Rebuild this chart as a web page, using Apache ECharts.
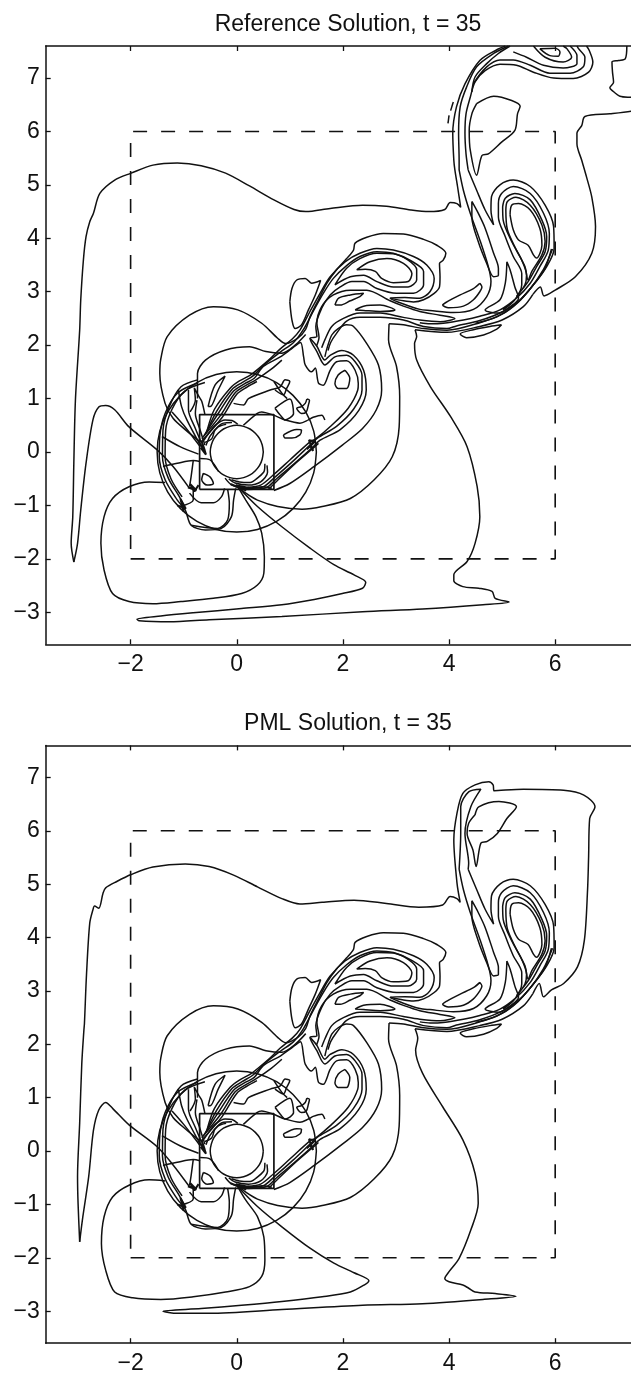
<!DOCTYPE html>
<html><head><meta charset="utf-8">
<style>html,body{margin:0;padding:0;background:#fff}#c{width:631px;height:1377px}</style>
<script src="https://cdn.jsdelivr.net/npm/echarts@6/dist/echarts.min.js"></script>
</head><body><div id="c"></div>
<script>
const titles = ['Reference Solution, t = 35', 'PML Solution, t = 35'];
const xTicks = [-2, 0, 2, 4, 6];
const yTicks = [-3, -2, -1, 0, 1, 2, 3, 4, 5, 6, 7];

const dashedBox = [[-2,-2],[6,-2],[6,6],[-2,6],[-2,-2]];
const innerBox = [[-0.7,-0.7],[0.7,-0.7],[0.7,0.7],[-0.7,0.7],[-0.7,-0.7]];
const bigCircle = [[1.5,0],[1.45,.39],[1.3,.75],[1.06,1.06],[.75,1.3],[.39,1.45],[0,1.5],[-.39,1.45],[-.75,1.3],[-1.06,1.06],[-1.3,.75],[-1.45,.39],[-1.5,0],[-1.45,-.39],[-1.3,-.75],[-1.06,-1.06],[-.75,-1.3],[-.39,-1.45],[0,-1.5],[.39,-1.45],[.75,-1.3],[1.06,-1.06],[1.3,-.75],[1.45,-.39],[1.5,0]];
const cylinder = [[.5,0],[.48,.13],[.43,.25],[.35,.35],[.25,.43],[.13,.48],[0,.5],[-.13,.48],[-.25,.43],[-.35,.35],[-.43,.25],[-.48,.13],[-.5,0],[-.48,-.13],[-.43,-.25],[-.35,-.35],[-.25,-.43],[-.13,-.48],[0,-.5],[.13,-.48],[.25,-.43],[.35,-.35],[.43,-.25],[.48,-.13],[.5,0]];

// Reference panel only
const refMain = [[-3.07,-2.06],[-3.12,-1.71],[-3.09,-1.21],[-3.07,-.21],[-3.04,.97],[-2.96,2.28],[-2.94,2.84],[-2.89,3.59],[-2.84,4.03],[-2.77,4.31],[-2.70,4.47],[-2.58,4.84],[-2.30,5.09],[-1.99,5.22],[-1.58,5.37],[-1.12,5.41],[-.67,5.36],[-.21,5.22],[.24,4.98],[.70,4.72],[1.08,4.54],[1.30,4.50],[1.76,4.56],[2.37,4.62],[2.82,4.60],[3.28,4.53],[3.62,4.50],[3.92,4.54],[4.02,4.67],[4.15,4.65],[4.22,4.58],[4.16,4.97],[4.11,5.28],[4.09,5.46],[4.07,5.96],[4.14,6.46],[4.30,6.89],[4.58,7.33],[4.90,7.53],[5.06,7.6]];
const refRise = [[-3.07,-2.06],[-3.0,-1.71],[-2.94,-1.09],[-2.84,-.21],[-2.71,.60],[-2.60,.84],[-2.47,.87],[-2.30,.79],[-2.03,.47],[-1.50,.04],[-1.20,-.27],[-.89,-.68]];
const refLoop = [[-1.35,-.57],[-1.65,-.56],[-2.03,-.65],[-2.34,-.87],[-2.50,-1.21],[-2.56,-1.71],[-2.50,-2.21],[-2.34,-2.65],[-2.03,-2.80],[-1.58,-2.84],[-1.05,-2.80],[-.44,-2.74],[.09,-2.65],[.39,-2.49],[.51,-2.27],[.52,-1.96],[.47,-1.52],[.36,-1.21],[.17,-.90],[.02,-.65]];
const refSpike = [[.02,-.65],[.39,-1.02],[.85,-1.40],[1.38,-1.80],[1.83,-2.11],[2.21,-2.30],[2.43,-2.44],[2.37,-2.55],[1.99,-2.65],[1.46,-2.76],[.85,-2.86],[.09,-2.93],[-.82,-3.01],[-1.43,-3.07],[-1.88,-3.13],[-1.84,-3.16],[-1.27,-3.18],[-.52,-3.14],[.85,-3.08],[2.37,-2.99],[3.50,-2.94],[4.64,-2.86],[5.13,-2.81],[4.87,-2.74],[4.81,-2.61],[4.56,-2.55],[4.26,-2.52],[4.09,-2.41],[4.09,-2.30],[4.34,-2.05],[4.49,-1.71],[4.58,-1.21],[4.53,-.65],[4.34,.10],[4.03,.66],[3.65,1.22],[3.39,1.72],[3.35,2.03],[3.39,2.16],[3.36,2.29]];
const refRight = [[7.6,6.42],[7.43,6.38],[7.03,6.33],[6.56,6.28],[6.50,6.11],[6.41,5.97],[6.41,5.77],[6.50,5.46],[6.59,5.15],[6.69,4.77],[6.76,4.22],[6.69,3.72],[6.38,3.28],[6.0,3.03],[5.79,2.92],[5.72,3.09],[5.58,2.95]];
const refCorner = [[7.6,6.63],[7.43,6.64],[7.22,6.66],[7.07,6.77],[7.03,6.82],[7.10,6.92],[7.08,7.11],[7.07,7.30],[7.19,7.33],[7.32,7.36],[7.35,7.6]];
const refDashA = [[4.08,6.55],[4.03,6.39]];
const refDashB = [[4.00,6.30],[3.98,6.15]];
const refBandMid = [[5.12,7.6],[4.84,7.46],[4.52,7.21],[4.33,6.83],[4.21,6.46],[4.18,5.96],[4.19,5.46],[4.19,5.28]];
const refBandOuter = [[6.59,7.6],[6.64,7.52],[6.71,7.30],[6.63,7.11],[6.34,6.99],[5.97,7.0],[5.59,7.11],[5.27,7.24],[4.96,7.26],[4.68,7.14],[4.49,6.93],[4.40,6.64],[4.32,6.33],[4.30,5.97],[4.32,5.58],[4.36,5.28]];
const refUpper1 = [[5.15,7.6],[4.93,7.46],[4.71,7.27],[4.49,7.02],[4.43,6.74],[4.46,6.89],[4.71,7.21],[4.96,7.34],[5.21,7.34],[5.53,7.24],[5.90,7.09],[6.28,7.09],[6.53,7.21],[6.56,7.39],[6.44,7.55],[6.41,7.6]];
const refUpper2 = [[5.21,7.49],[5.46,7.39],[5.78,7.24],[6.15,7.19],[6.41,7.27],[6.41,7.42],[6.28,7.6]];
const refUpper3 = [[5.59,7.6],[5.81,7.39],[6.15,7.30],[6.31,7.39],[6.22,7.55],[6.15,7.6]];
const refUpper4 = [[5.71,7.55],[5.90,7.42],[6.06,7.41],[6.09,7.49],[6.0,7.56],[5.71,7.55]];
const refPatch = [[4.52,6.52],[4.84,6.66],[5.18,6.58],[5.34,6.47],[5.29,6.33],[5.24,6.02],[4.99,5.80],[4.74,5.58],[4.62,5.55],[4.52,5.18],[4.40,5.65],[4.38,6.02],[4.43,6.33],[4.52,6.52]];

// PML panel only
const pmlMain = [[-2.96,-1.70],[-2.99,-.98],[-3.0,-.48],[-2.96,.52],[-2.92,1.64],[-2.88,2.27],[-2.87,2.39],[-2.83,3.33],[-2.77,4.27],[-2.71,4.52],[-2.68,4.59],[-2.60,4.55],[-2.52,4.83],[-2.47,4.93],[-2.26,5.05],[-1.99,5.18],[-1.58,5.32],[-.97,5.38],[-.52,5.33],[-.06,5.17],[.39,4.95],[.85,4.73],[1.19,4.63],[1.61,4.66],[2.21,4.70],[2.82,4.64],[3.43,4.57],[3.88,4.61],[4.02,4.77],[4.15,4.73],[4.21,4.66],[4.15,5.02],[4.09,5.83],[4.15,6.33],[4.26,6.70],[4.49,6.86],[4.75,6.92],[4.83,6.86],[4.85,6.75],[5.40,6.78],[6.16,6.76],[6.54,6.67],[6.75,6.45],[6.65,6.23],[6.63,5.52],[6.61,4.89],[6.55,3.95],[6.42,3.45],[6.16,3.14],[5.93,3.02],[5.78,2.89],[5.70,3.14],[5.58,2.95]];
const pmlRise = [[-2.96,-1.70],[-2.90,-1.23],[-2.79,-.48],[-2.70,.39],[-2.60,.77],[-2.47,.91],[-2.34,.80],[-2.03,.49],[-1.50,.08],[-1.20,-.26],[-.89,-.67]];
const pmlLoop = [[-1.35,-.56],[-1.65,-.54],[-2.03,-.64],[-2.34,-.86],[-2.50,-1.23],[-2.55,-1.73],[-2.47,-2.23],[-2.30,-2.64],[-1.96,-2.75],[-1.43,-2.78],[-.82,-2.73],[-.21,-2.64],[.24,-2.54],[.47,-2.35],[.53,-2.04],[.51,-1.61],[.39,-1.23],[.17,-.92],[.02,-.67]];
const pmlSpike = [[.02,-.67],[.39,-1.04],[.85,-1.42],[1.38,-1.82],[1.83,-2.10],[2.21,-2.28],[2.49,-2.43],[2.40,-2.51],[2.14,-2.64],[1.61,-2.73],[.85,-2.82],[.09,-2.89],[-.67,-2.95],[-1.39,-3.0],[-1.12,-3.04],[-.52,-3.04],[.85,-2.97],[2.37,-2.89],[3.50,-2.86],[4.64,-2.78],[5.26,-2.72],[4.87,-2.67],[4.49,-2.64],[4.37,-2.57],[4.26,-2.51],[4.0,-2.45],[3.92,-2.39],[4.0,-2.26],[4.19,-2.01],[4.41,-1.48],[4.55,-.98],[4.49,-.42],[4.26,.21],[3.88,.83],[3.50,1.46],[3.37,1.89],[3.41,2.11],[3.36,2.29]];
const pmlBandMid = [[4.19,5.28],[4.22,5.95],[4.22,6.45],[4.37,6.73],[4.60,6.78],[4.41,6.45],[4.30,5.95],[4.37,5.39],[4.36,5.28]];
const pmlPatch = [[4.49,6.30],[4.56,6.45],[4.94,6.55],[5.27,6.45],[5.09,6.23],[4.91,5.95],[4.72,5.80],[4.60,5.77],[4.51,5.33],[4.45,5.64],[4.34,5.95],[4.37,6.14],[4.49,6.30]];

// Shared wake contours
const tailBand = [[5.58,2.95],[5.4,2.72],[5.0,2.47],[4.58,2.35],[3.96,2.24],[3.36,2.29]];
const lobeRight = [[2.87,2.40],[2.86,2.10],[3.01,1.60],[3.07,1.04],[3.06,.47],[2.93,-.09],[2.59,-.52],[2.14,-.87],[1.61,-1.02],[1.23,-1.07],[.77,-1.02],[.39,-.90],[.17,-.77],[.02,-.65]];
const lobeTop = [[2.87,2.40],[3.14,2.38],[3.52,2.31],[3.96,2.28],[4.58,2.42],[5.0,2.58],[5.3,2.8],[5.55,3.08],[5.8,3.42],[5.93,3.8]];
const lobeMid = [[1.66,1.78],[1.70,1.94],[1.79,2.19],[1.91,2.31],[2.07,2.38],[2.20,2.35],[2.45,2.03],[2.67,1.63],[2.73,1.16],[2.63,.79],[2.37,.44],[1.99,.13],[1.46,-.27],[1.00,-.59],[.70,-.72]];
const lobeLeft = [[-.70,.20],[-.95,.40],[-1.2,.63],[-1.35,.91],[-1.45,1.47],[-1.43,1.75],[-1.31,2.16],[-.89,2.56],[-.44,2.72],[.02,2.66],[.47,2.41],[.77,2.13],[.92,2.03],[1.15,2.13],[1.30,2.3],[1.38,2.53],[1.54,2.85],[1.70,3.16],[1.88,3.41],[2.07,3.62],[2.20,3.78],[2.23,3.91],[2.45,4.02],[2.76,4.09],[3.14,4.08],[3.52,3.98],[3.77,3.87],[3.94,3.72],[3.89,3.59],[3.82,3.53],[3.83,3.28],[3.82,3.09],[3.72,2.97],[3.52,2.85],[3.33,2.81],[3.14,2.83],[2.89,2.88]];
const innerArc = [[-.74,1.0],[-.74,1.22],[-.74,1.47],[-.59,1.72],[-.21,1.91],[.24,1.97],[.55,1.88],[.85,1.85],[1.1,2.0],[1.3,2.2]];
const band1 = [[-.56,.40],[-.42,.80],[-.12,1.20],[.05,1.33],[.27,1.45],[.60,1.72],[.82,1.93],[1.05,2.12],[1.19,2.28],[1.38,2.63],[1.57,2.97],[1.76,3.28],[2.04,3.56],[2.32,3.72],[2.64,3.81],[2.95,3.78],[3.33,3.66],[3.58,3.50],[3.72,3.25],[3.64,3.0],[3.45,2.88],[3.17,2.89],[2.89,2.88],[3.14,2.77],[3.45,2.67],[3.64,2.65],[4.08,2.61],[4.46,2.67],[4.71,2.91],[4.79,3.19],[4.74,3.47],[4.58,3.97],[4.40,4.47],[4.27,4.90],[4.19,5.28]];
const band2 = [[-.58,.35],[-.38,.76],[-.09,1.17],[.1,1.30],[.30,1.42],[.55,1.66],[.82,1.87],[1.07,2.05],[1.26,2.30],[1.45,2.65],[1.63,2.97],[1.82,3.25],[2.07,3.49],[2.32,3.66],[2.64,3.75],[2.95,3.72],[3.28,3.58],[3.52,3.38],[3.52,3.13],[3.33,2.97],[3.01,2.97],[2.64,3.06],[2.39,3.19],[2.17,3.19],[1.95,3.09],[1.76,2.94],[1.60,2.69],[1.49,2.35],[1.51,2.16],[1.38,2.13],[1.51,1.88],[1.66,1.63],[1.85,1.78],[2.07,1.81],[2.23,1.69],[2.36,1.44],[2.36,1.16],[2.2,.8],[1.88,.48],[1.52,.26],[1.38,.13],[1.05,-.18],[.72,-.47],[.50,-.65],[.2,-.68]];
const band3 = [[-.62,.30],[-.35,.72],[-.06,1.14],[.15,1.28],[.33,1.38],[.50,1.60],[.82,1.78],[1.03,1.93],[1.20,2.05],[1.26,1.78],[1.29,1.63],[1.41,1.50],[1.48,1.57],[1.54,1.29],[1.63,1.25],[1.76,1.53],[1.88,1.69],[2.07,1.71],[2.23,1.53],[2.29,1.28],[2.28,1.16],[2.10,.82],[1.79,.5],[1.48,.24],[1.38,.19],[1.0,-.15],[.70,-.42],[.45,-.62],[.2,-.66]];
const band4 = [[-.66,.25],[-.31,.68],[-.03,1.11],[.18,1.25],[.36,1.35],[.65,1.55],[.85,1.72]];
const band5 = [[-.68,.18],[-.28,.64],[0,1.08],[.20,1.22],[.38,1.32]];
const nestLine3 = [[1.38,2.13],[1.51,1.98],[1.66,1.72],[1.76,1.81],[1.98,1.90],[2.20,1.81],[2.39,1.53],[2.44,1.16],[2.30,.78],[1.95,.42],[1.57,.22],[1.42,.08],[1.08,-.22],[.75,-.50],[.55,-.67],[.2,-.70]];
const nestLine4 = [[1.54,.16],[1.40,.04],[1.12,-.2],[.78,-.52],[.60,-.70]];
const nestCore = [[2.04,1.53],[2.13,1.38],[2.07,1.19],[1.91,1.19],[1.85,1.28],[1.91,1.44],[2.04,1.53]];
const loopA = [[1.60,1.95],[1.66,2.10],[1.79,2.35],[2.01,2.50],[2.32,2.60],[2.70,2.60],[3.14,2.52],[3.45,2.47],[3.83,2.44],[4.11,2.50],[3.83,2.56],[3.45,2.63],[3.14,2.73],[2.89,2.83],[2.45,3.03],[2.14,3.03],[1.82,2.94],[1.60,2.72],[1.51,2.41],[1.55,2.15],[1.50,1.98]];
const loopB = [[1.72,1.90],[1.77,2.05],[1.88,2.22],[2.07,2.45],[2.32,2.52],[2.70,2.52],[3.14,2.47],[3.52,2.35],[3.96,2.31],[4.14,2.36],[4.58,2.46],[5.02,2.63],[5.34,2.85],[5.59,3.13],[5.84,3.47],[5.98,3.81],[5.97,4.22],[5.81,4.62],[5.53,4.97],[5.21,5.09],[4.96,5.0],[4.80,4.78],[4.79,4.53],[4.84,4.25],[4.68,4.53],[4.52,4.90],[4.36,5.28]];
const vortex2 = [[3.45,2.42],[3.64,2.40],[3.89,2.41],[4.27,2.47],[4.58,2.54],[4.96,2.66],[5.27,2.88],[5.53,3.16],[5.71,3.47],[5.87,3.78],[5.89,4.09],[5.78,4.47],[5.53,4.84],[5.21,4.97],[4.99,4.84],[4.93,4.65],[4.93,4.40],[5.06,4.03],[5.21,3.66],[5.37,3.34],[5.37,3.13],[5.24,2.85],[5.02,2.66]];
const vortex3 = [[5.01,4.59],[5.06,4.75],[5.24,4.84],[5.53,4.72],[5.75,4.34],[5.84,4.03],[5.81,3.75],[5.65,3.47],[5.49,3.19],[5.27,2.91],[5.43,3.13],[5.46,3.31],[5.37,3.59],[5.18,3.94],[5.02,4.34],[5.01,4.59]];
const vortex3b = [[5.07,4.53],[5.10,4.69],[5.26,4.77],[5.53,4.62],[5.75,4.25],[5.81,3.94],[5.75,3.69],[5.56,3.38],[5.49,3.22],[5.43,3.47],[5.27,3.78],[5.10,4.16],[5.07,4.53]];
const vortex4 = [[5.15,4.44],[5.18,4.62],[5.31,4.65],[5.53,4.53],[5.71,4.19],[5.75,3.87],[5.65,3.63],[5.59,3.69],[5.49,3.87],[5.31,3.97],[5.21,4.16],[5.15,4.44]];
const vortexEdge = [[5.95,3.8],[5.78,3.42],[5.5,3.02],[5.2,2.72],[4.9,2.53],[4.5,2.41]];
const bladeLong = [[4.43,4.69],[4.55,4.47],[4.68,4.19],[4.84,3.72],[4.93,3.44],[4.93,3.31],[4.84,3.28],[4.71,3.53],[4.55,3.94],[4.43,4.40],[4.43,4.69]];
const bladeLow = [[4.58,3.16],[4.46,3.06],[4.21,2.94],[3.96,2.81],[3.88,2.75],[3.99,2.70],[4.27,2.73],[4.46,2.85],[4.58,3.0],[4.62,3.09],[4.58,3.16]];
const bladeHook = [[5.09,3.56],[5.06,3.16],[4.96,2.85],[4.68,2.66],[4.93,2.60],[5.15,2.72],[5.31,2.88],[5.24,3.09],[5.15,3.41],[5.09,3.56]];
const bladeThin = [[4.99,2.38],[4.77,2.35],[4.46,2.29],[4.21,2.21],[4.33,2.14],[4.65,2.19],[4.90,2.30],[4.99,2.38]];
const blobLeft = [[1.0,2.81],[1.04,3.06],[1.13,3.22],[1.29,3.25],[1.41,3.16],[1.58,3.21],[1.48,2.94],[1.35,2.66],[1.22,2.38],[1.10,2.31],[1.04,2.47],[1.0,2.81]];
const nest1 = [[2.26,3.41],[2.51,3.56],[2.83,3.62],[3.14,3.53],[3.30,3.34],[3.23,3.19],[2.95,3.17],[2.73,3.25],[2.61,3.38],[2.42,3.42],[2.26,3.41]];
const nest2 = [[1.85,3.13],[2.14,3.28],[2.39,3.31],[2.64,3.19],[2.95,3.09],[3.23,3.09],[3.39,3.22],[3.39,3.41],[3.23,3.59],[2.95,3.71],[2.64,3.72],[2.32,3.62],[2.07,3.44],[1.85,3.13]];
const blade1 = [[1.85,2.75],[1.92,2.88],[2.14,2.94],[2.39,2.97],[2.32,2.91],[2.14,2.83],[1.95,2.75],[1.85,2.75]];
const blade2 = [[2.23,2.66],[2.39,2.73],[2.70,2.75],[2.98,2.66],[2.70,2.63],[2.39,2.65],[2.23,2.66]];

// Shared contours around the cylinder
const arcOuter = [[-.74,1.29],[-1.12,1.10],[-1.35,.72],[-1.45,.29],[-1.46,-.09],[-1.35,-.52],[-1.12,-.90],[-.97,-1.09],[-.86,-1.37],[-.59,-1.46],[-.29,-1.43],[-.10,-1.21],[-.06,-.90],[-.02,-.68]];
const arcInner = [[-.74,1.35],[-1.05,1.22],[-1.27,.85],[-1.39,.41],[-1.40,-.09],[-1.29,-.49],[-1.08,-.84],[-.99,-1.02]];
const arcThird = [[-.60,1.30],[-.98,1.14],[-1.22,.80],[-1.34,.40],[-1.35,-.09],[-1.24,-.50],[-1.03,-.84]];
const footLine = [[-.86,-1.37],[-.36,-1.43],[-.17,-1.27],[-.14,-.96],[-.17,-.71]];
const footLoop = [[-.89,-.77],[-.67,-.95],[-.44,-.95],[-.29,-.84],[-.23,-.68]];
const footTie = [[-1.08,-1.02],[-.82,-.90],[-.82,-.68]];
const leftCross = [[-1.39,-.27],[-1.12,-.21],[-.82,-.16],[-.69,-.18]];
const leftDrop = [[-.89,-.65],[-.86,-.46],[-.82,-.16]];
const fan1 = [[-1.41,.29],[-1.07,.10],[-.72,-.04]];
const fan2 = [[-1.22,.75],[-1.0,.5],[-.78,.22],[-.69,.10]];
const fan3 = [[-.91,1.16],[-.91,.79],[-.78,.44],[-.66,.16]];
const fan4 = [[-.75,.97],[-.78,.72],[-.69,.41],[-.60,.13]];
const fan5 = [[-1.10,1.16],[-1.04,.85],[-.94,.60],[-.70,.15]];
const fanJag = [[-.88,.75],[-.78,.97],[-.80,1.2],[-.72,1.05],[-.66,.95],[-.60,.70]];
const fanBlade = [[-.54,.85],[-.41,1.25],[-.22,1.42],[-.35,1.16],[-.50,.85],[-.54,.85]];
const shedLine = [[-.06,.91],[.13,.88],[.22,1.0],[.63,1.16],[.82,1.22],[.91,1.35],[1.0,1.32],[.94,1.19],[.88,1.07],[.72,1.16]];
const chordA = [[.70,1.32],[.85,1.10],[.95,1.0]];
const patchTri = [[.72,.82],[1.0,.99],[1.07,.72],[.91,.60],[.82,.69],[.72,.82]];
const boxBump = [[.125,.5],[.38,.72],[.47,.75],[.69,.69],[.91,.60],[1.19,.54],[1.35,.60],[1.44,.65],[1.60,.69],[1.66,.60]];
const blobRight = [[.88,.32],[1.13,.42],[1.22,.41],[1.19,.32],[1.04,.26],[.91,.26],[.88,.32]];
const hookSmall = [[1.32,.99],[1.37,.97],[1.35,.88],[1.31,.75],[1.22,.72],[1.13,.82],[1.22,.85],[1.29,.91],[1.32,.99]];
const ringA = [[-.62,.22],[-.53,.35],[-.41,.50],[-.22,.60],[-.09,.59],[.02,.52]];
const ringB = [[-.60,.18],[-.47,.25],[-.41,.41],[-.25,.54],[-.09,.55]];
const ringC = [[-.58,.12],[-.50,.30],[-.35,.47],[-.20,.52]];
const lowLobe = [[-.63,-.40],[-.50,-.47],[-.44,-.59],[-.56,-.62],[-.66,-.52],[-.63,-.40]];
const lowChord = [[-.69,-.12],[-.50,-.15],[-.34,-.37]];
const footArc1 = [[-.22,-.49],[-.09,-.62],[.19,-.68],[.50,-.65],[.66,-.68]];
const footArc2 = [[-.15,-.50],[-.03,-.58],[.22,-.62],[.45,-.56],[.58,-.38],[.57,-.25]];
const footArc3 = [[-.10,-.52],[.05,-.56],[.25,-.57],[.40,-.48],[.52,-.35],[.53,-.22]];
const knotLeft = [[-.70,.16],[-.60,.02],[-.66,.20],[-.58,-.05],[-.68,.08]];
const knotLow = [[-.92,-.66],[-.76,-.72],[-.88,-.60],[-.80,-.74],[-.72,-.62]];
const knotFoot = [[-.12,-.60],[.18,-.72],[-.02,-.62],[.26,-.68],[.06,-.70]];
const knotRight = [[1.32,.05],[1.48,.20],[1.36,.22],[1.44,.02],[1.38,.12]];
const knotSide = [[-1.12,-1.0],[-.96,-1.06],[-1.06,-.88],[-1.0,-1.12]];

const shared = [tailBand, lobeRight, lobeTop, lobeMid, lobeLeft, innerArc, band1, band2, band3, band4, band5, nestLine3, nestLine4, nestCore, loopA, loopB, vortex2, vortex3, vortex3b, vortex4, vortexEdge, bladeLong, bladeLow, bladeHook, bladeThin, blobLeft, nest1, nest2, blade1, blade2, arcOuter, arcInner, arcThird, footLine, footLoop, footTie, leftCross, leftDrop, fan1, fan2, fan3, fan4, fan5, fanJag, fanBlade, shedLine, chordA, patchTri, boxBump, blobRight, hookSmall, ringA, ringB, ringC, lowLobe, lowChord, footArc1, footArc2, footArc3, bigCircle, cylinder];
const knots = [knotLeft, knotLow, knotFoot, knotRight, knotSide];
const refOnly = [refMain, refRise, refLoop, refSpike, refRight, refCorner, refDashA, refDashB, refBandMid, refBandOuter, refUpper1, refUpper2, refUpper3, refUpper4, refPatch];
const pmlOnly = [pmlMain, pmlRise, pmlLoop, pmlSpike, pmlBandMid, pmlPatch];

const INK = '#111';
const FONT = '"Liberation Sans", Arial, sans-serif';
const fmt = v => String(v).replace('-', '\u2212');

function axisPair(type, gridIndex, ticks, position, labelled) {
  return {
    type: 'value', gridIndex, min: -3.6, max: 7.6, position,
    axisLine: { show: true, onZero: false, lineStyle: { color: INK, width: 1.5 } },
    axisTick: { show: true, inside: true, length: 5, customValues: ticks, lineStyle: { color: INK, width: 1.3 } },
    axisLabel: labelled
      ? { show: true, customValues: ticks, formatter: fmt, color: INK, fontFamily: FONT, fontSize: 23, margin: type === 'x' ? 9 : 6 }
      : { show: false },
    splitLine: { show: false }
  };
}

function contour(data, p, smooth, width) {
  return {
    type: 'line', data, xAxisIndex: p * 2, yAxisIndex: p, showSymbol: false, silent: true,
    smooth: smooth ? 0.3 : false, animation: false,
    lineStyle: { color: INK, width: width || 1.5 }
  };
}

const series = [];
[refOnly, pmlOnly].forEach((own, p) => {
  own.concat(shared).forEach(d => series.push(contour(d, p, true)));
  knots.forEach(d => series.push(contour(d, p, false, 2)));
  series.push(contour(innerBox, p, false, 1.7));
  const dash = contour(dashedBox, p, false, 1.6);
  dash.lineStyle.type = [14, 14];
  series.push(dash);
});

const chart = echarts.init(document.getElementById('c'), null, { renderer: 'canvas' });
chart.setOption({
  backgroundColor: '#fff',
  animation: false,
  title: titles.map((text, i) => ({
    text, left: 343, top: i === 0 ? 8 : 707, textAlign: 'center',
    textStyle: { fontFamily: FONT, fontSize: 23, fontWeight: 'normal', color: INK }
  })),
  grid: [
    { left: 45.7, top: 46, width: 594.4, height: 598.3, containLabel: false, outerBoundsMode: 'none' },
    { left: 45.7, top: 745.4, width: 594.4, height: 597.8, containLabel: false, outerBoundsMode: 'none' }
  ],
  xAxis: [
    axisPair('x', 0, xTicks, 'bottom', true), axisPair('x', 0, xTicks, 'top', false),
    axisPair('x', 1, xTicks, 'bottom', true), axisPair('x', 1, xTicks, 'top', false)
  ],
  yAxis: [axisPair('y', 0, yTicks, 'left', true), axisPair('y', 1, yTicks, 'left', true)],
  series
});
</script></body></html>
